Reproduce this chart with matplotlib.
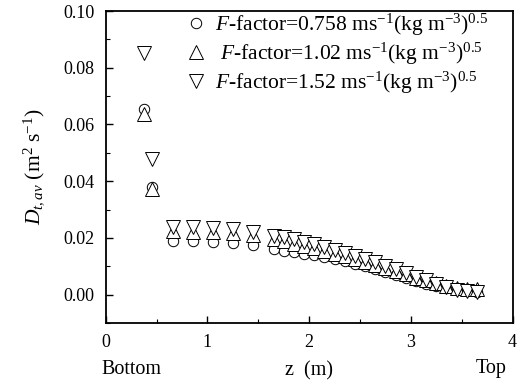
import matplotlib
matplotlib.use('Agg')
import matplotlib.pyplot as plt
from matplotlib.ticker import MultipleLocator

plt.rcParams['font.family'] = 'Liberation Serif'
plt.rcParams['mathtext.fontset'] = 'custom'
plt.rcParams['mathtext.rm'] = 'Liberation Serif'
plt.rcParams['mathtext.it'] = 'Liberation Serif:italic'

# height above the bottom (m)
z = [0.38, 0.46, 0.66, 0.86, 1.05, 1.25, 1.45,
     1.65, 1.75, 1.85, 1.95, 2.05, 2.15, 2.25, 2.35, 2.45, 2.55,
     2.65, 2.75, 2.85, 2.95, 3.05, 3.15, 3.25, 3.35, 3.45, 3.55, 3.65]

# average turbulent diffusivity for each F-factor
d_0758 = [0.0653, 0.0380, 0.0190, 0.0188, 0.0186, 0.0182, 0.0176,
          0.0160, 0.0155, 0.0150, 0.0145, 0.0139, 0.0132, 0.0125, 0.0117, 0.0109, 0.0100,
          0.0091, 0.0080, 0.0070, 0.0060, 0.0049, 0.0039, 0.0030, 0.0022, 0.0016, 0.0012, 0.0010]
d_102 = [0.0637, 0.0372, 0.0224, 0.0222, 0.0220, 0.0216, 0.0210,
         0.0195, 0.0188, 0.0180, 0.0172, 0.0163, 0.0154, 0.0145, 0.0136, 0.0126, 0.0116,
         0.0105, 0.0094, 0.0083, 0.0071, 0.0060, 0.0050, 0.0040, 0.0031, 0.0025, 0.0021, 0.0019]
d_152 = [0.0852, 0.0479, 0.0240, 0.0238, 0.0235, 0.0230, 0.0222,
         0.0208, 0.0202, 0.0195, 0.0187, 0.0178, 0.0168, 0.0158, 0.0148, 0.0137, 0.0126,
         0.0114, 0.0101, 0.0089, 0.0076, 0.0062, 0.0050, 0.0038, 0.0027, 0.0018, 0.0013, 0.0011]

labels = ['$F$-factor=0.758 ms$^{-1}$(kg m$^{-3}$)$^{0.5}$',
          ' $F$-factor=1.02 ms$^{-1}$(kg m$^{-3}$)$^{0.5}$',
          '$F$-factor=1.52 ms$^{-1}$(kg m$^{-3}$)$^{0.5}$']

fig = plt.figure(figsize=(5.22, 3.89), dpi=100)
ax = fig.add_axes([0.2025, 0.1697, 0.7795, 0.802])

style = dict(linestyle='none', markerfacecolor='white', markeredgecolor='black',
             markeredgewidth=0.7)
ax.plot(z, d_0758, marker='o', markersize=7.5, label=labels[0], zorder=3, **style)
ax.plot(z, d_102, marker='^', markersize=9.5, label=labels[1], zorder=4, **style)
ax.plot(z, d_152, marker='v', markersize=9.5, label=labels[2], zorder=5, **style)

ax.set_xlim(0, 4)
ax.set_ylim(-0.01, 0.10)
ax.xaxis.set_major_locator(MultipleLocator(1))
ax.xaxis.set_minor_locator(MultipleLocator(0.5))
ax.yaxis.set_major_locator(MultipleLocator(0.02))
ax.yaxis.set_minor_locator(MultipleLocator(0.01))
ax.yaxis.set_major_formatter(matplotlib.ticker.FormatStrFormatter('%.2f'))
ax.tick_params(which='both', direction='in', top=False, right=False, labelsize=13)
ax.tick_params(which='major', length=5, width=1, pad=8)
ax.tick_params(which='minor', length=3, width=0.8)
for s in ax.spines.values():
    s.set_linewidth(1.3)

ax.set_xlabel('z  (m)', fontsize=14.5, labelpad=7)
ax.set_ylabel('$D_{t,av}$ (m$^2$ s$^{-1}$)', fontsize=15.5, labelpad=12)
fig.text(101.7 / 522, 1 - 369 / 389, 'Bottom', ha='left', va='center', fontsize=14.5)
fig.text(506.7 / 522, 1 - 369 / 389, 'Top', ha='right', va='center', fontsize=14.5)

ax.legend(loc='upper left', bbox_to_anchor=(185 / 522, 1 - 12 / 389),
          bbox_transform=fig.transFigure, frameon=False, borderpad=0,
          borderaxespad=0, handlelength=1, handletextpad=0.4,
          labelspacing=0.12, fontsize=15.5, numpoints=1)

fig.savefig('out.png', dpi=100)
